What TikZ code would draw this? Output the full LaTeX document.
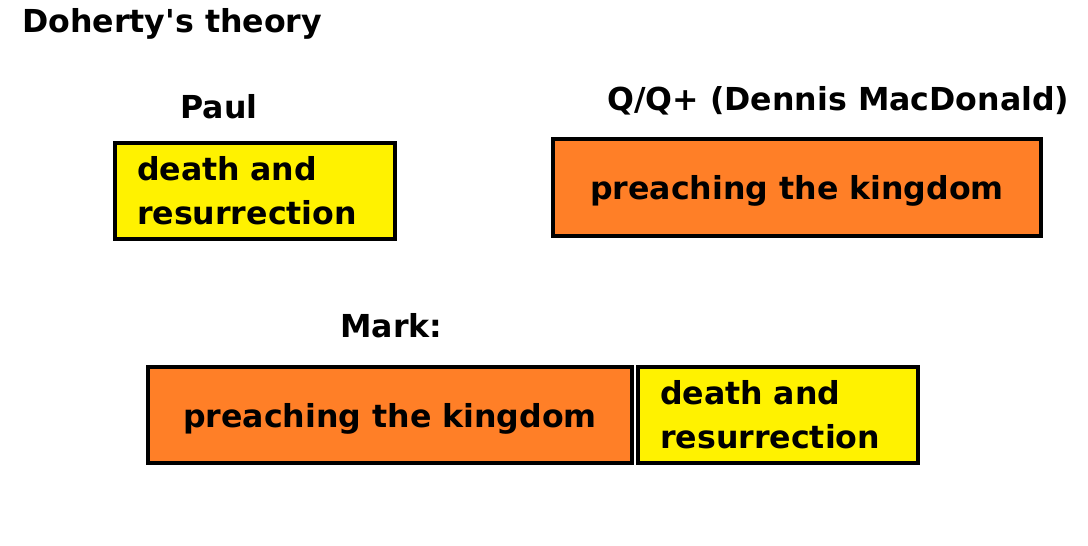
\documentclass[tikz,border=0pt]{standalone}
\usepackage{fontspec}
\setmainfont{DejaVu Sans}
\usetikzlibrary{positioning}
\definecolor{boxyellow}{HTML}{FFF200}
\definecolor{boxorange}{HTML}{FF7F27}
\tikzset{
  gospel/.style={draw=black, line width=0.085cm, font=\bfseries\fontsize{18pt}{25pt}\selectfont, minimum height=1.92cm},
  passion/.style={gospel, fill=boxyellow, text width=4.72cm, align=left, inner xsep=0.44cm},
  kingdom/.style={gospel, fill=boxorange, align=center, text depth=0pt},
  heading/.style={font=\bfseries\fontsize{18pt}{25pt}\selectfont, anchor=base west, inner sep=0pt}
}

\begin{document}
\begin{tikzpicture}[x=0.02cm, y=-0.02cm]
\useasboundingbox (0,0) rectangle (1088,546);
\node[heading] (title) at (22,33) {Doherty\textquotesingle s theory};
% Paul and Q
\node[heading] (paul) at (180,119) {Paul};
\node[passion] (paulbox) at (255,191) {death and\\resurrection};
\node[heading] (qsource) at (607,111) {Q/Q+ (Dennis MacDonald)};
\node[kingdom, minimum width=9.76cm, minimum height=1.94cm] (qbox) at (797,187.5) {preaching the kingdom};
% Mark
\node[heading] (mark) at (340,338) {Mark:};
\node[kingdom, minimum width=9.68cm] (markpreach) at (390,415) {preaching the kingdom};
\node[passion, right=0.04cm of markpreach] (markpassion) {death and\\resurrection};
\end{tikzpicture}
\end{document}
